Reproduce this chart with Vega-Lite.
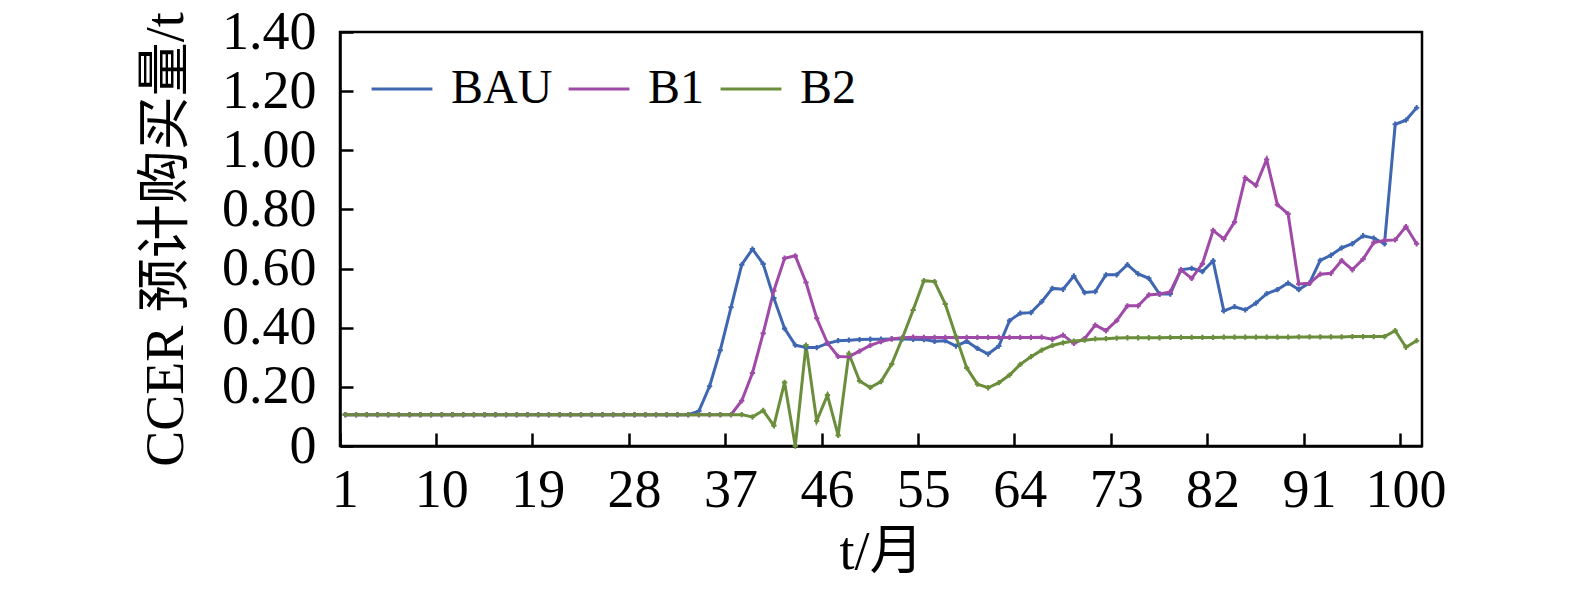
{
  "$schema": "https://vega.github.io/schema/vega-lite/v6.json",
  "width": 1082,
  "height": 414,
  "autosize": "none",
  "padding": {"left": 340, "top": 32, "right": 153, "bottom": 146},
  "background": "white",
  "config": {
    "view": {"stroke": "black", "strokeWidth": 2.5},
    "font": "Liberation Serif",
    "axis": {
      "domainColor": "black", "domainWidth": 2.5, "tickColor": "black", "tickWidth": 2.5, "tickSize": -13,
      "labelFont": "Liberation Serif", "labelFontSize": 54, "labelColor": "black",
      "titleFont": "Liberation Serif, Noto Sans CJK SC", "titleFontSize": 54, "titleFontWeight": "normal", "titleColor": "black",
      "grid": false
    }
  },
  "data": {"values": [
    {"t":1,"BAU":0.106,"B1":0.106,"B2":0.106},{"t":2,"BAU":0.106,"B1":0.106,"B2":0.106},{"t":3,"BAU":0.106,"B1":0.106,"B2":0.106},
    {"t":4,"BAU":0.106,"B1":0.106,"B2":0.106},{"t":5,"BAU":0.106,"B1":0.106,"B2":0.106},{"t":6,"BAU":0.106,"B1":0.106,"B2":0.106},
    {"t":7,"BAU":0.106,"B1":0.106,"B2":0.106},{"t":8,"BAU":0.106,"B1":0.106,"B2":0.106},{"t":9,"BAU":0.106,"B1":0.106,"B2":0.106},
    {"t":10,"BAU":0.106,"B1":0.106,"B2":0.106},{"t":11,"BAU":0.106,"B1":0.106,"B2":0.106},{"t":12,"BAU":0.106,"B1":0.106,"B2":0.106},
    {"t":13,"BAU":0.106,"B1":0.106,"B2":0.106},{"t":14,"BAU":0.106,"B1":0.106,"B2":0.106},{"t":15,"BAU":0.106,"B1":0.106,"B2":0.106},
    {"t":16,"BAU":0.106,"B1":0.106,"B2":0.106},{"t":17,"BAU":0.106,"B1":0.106,"B2":0.106},{"t":18,"BAU":0.106,"B1":0.106,"B2":0.106},
    {"t":19,"BAU":0.106,"B1":0.106,"B2":0.106},{"t":20,"BAU":0.106,"B1":0.106,"B2":0.106},{"t":21,"BAU":0.106,"B1":0.106,"B2":0.106},
    {"t":22,"BAU":0.106,"B1":0.106,"B2":0.106},{"t":23,"BAU":0.106,"B1":0.106,"B2":0.106},{"t":24,"BAU":0.106,"B1":0.106,"B2":0.106},
    {"t":25,"BAU":0.106,"B1":0.106,"B2":0.106},{"t":26,"BAU":0.106,"B1":0.106,"B2":0.106},{"t":27,"BAU":0.106,"B1":0.106,"B2":0.106},
    {"t":28,"BAU":0.106,"B1":0.106,"B2":0.106},{"t":29,"BAU":0.106,"B1":0.106,"B2":0.106},{"t":30,"BAU":0.106,"B1":0.106,"B2":0.106},
    {"t":31,"BAU":0.106,"B1":0.106,"B2":0.106},{"t":32,"BAU":0.106,"B1":0.106,"B2":0.106},{"t":33,"BAU":0.106,"B1":0.106,"B2":0.106},
    {"t":34,"BAU":0.118,"B1":0.106,"B2":0.106},{"t":35,"BAU":0.202,"B1":0.106,"B2":0.106},{"t":36,"BAU":0.324,"B1":0.106,"B2":0.106},
    {"t":37,"BAU":0.469,"B1":0.106,"B2":0.106},{"t":38,"BAU":0.613,"B1":0.153,"B2":0.106},{"t":39,"BAU":0.666,"B1":0.247,"B2":0.098},
    {"t":40,"BAU":0.616,"B1":0.381,"B2":0.12},{"t":41,"BAU":0.5,"B1":0.525,"B2":0.069},{"t":42,"BAU":0.397,"B1":0.635,"B2":0.215},
    {"t":43,"BAU":0.341,"B1":0.643,"B2":0.0},{"t":44,"BAU":0.333,"B1":0.553,"B2":0.341},{"t":45,"BAU":0.333,"B1":0.432,"B2":0.085},
    {"t":46,"BAU":0.347,"B1":0.348,"B2":0.172},{"t":47,"BAU":0.356,"B1":0.303,"B2":0.036},{"t":48,"BAU":0.358,"B1":0.302,"B2":0.313},
    {"t":49,"BAU":0.36,"B1":0.321,"B2":0.22},{"t":50,"BAU":0.361,"B1":0.34,"B2":0.198},{"t":51,"BAU":0.361,"B1":0.353,"B2":0.218},
    {"t":52,"BAU":0.362,"B1":0.362,"B2":0.277},{"t":53,"BAU":0.362,"B1":0.366,"B2":0.365},{"t":54,"BAU":0.361,"B1":0.368,"B2":0.46},
    {"t":55,"BAU":0.36,"B1":0.367,"B2":0.559},{"t":56,"BAU":0.354,"B1":0.367,"B2":0.556},{"t":57,"BAU":0.356,"B1":0.367,"B2":0.48},
    {"t":58,"BAU":0.338,"B1":0.367,"B2":0.37},{"t":59,"BAU":0.354,"B1":0.367,"B2":0.264},{"t":60,"BAU":0.33,"B1":0.367,"B2":0.209},
    {"t":61,"BAU":0.311,"B1":0.367,"B2":0.197},{"t":62,"BAU":0.338,"B1":0.367,"B2":0.214},{"t":63,"BAU":0.424,"B1":0.367,"B2":0.24},
    {"t":64,"BAU":0.449,"B1":0.367,"B2":0.276},{"t":65,"BAU":0.451,"B1":0.367,"B2":0.302},{"t":66,"BAU":0.488,"B1":0.368,"B2":0.324},
    {"t":67,"BAU":0.533,"B1":0.361,"B2":0.34},{"t":68,"BAU":0.53,"B1":0.375,"B2":0.349},{"t":69,"BAU":0.575,"B1":0.347,"B2":0.355},
    {"t":70,"BAU":0.519,"B1":0.363,"B2":0.358},{"t":71,"BAU":0.522,"B1":0.409,"B2":0.362},{"t":72,"BAU":0.579,"B1":0.39,"B2":0.363},
    {"t":73,"BAU":0.579,"B1":0.424,"B2":0.365},{"t":74,"BAU":0.613,"B1":0.474,"B2":0.366},{"t":75,"BAU":0.582,"B1":0.474,"B2":0.366},
    {"t":76,"BAU":0.567,"B1":0.511,"B2":0.366},{"t":77,"BAU":0.514,"B1":0.514,"B2":0.366},{"t":78,"BAU":0.514,"B1":0.521,"B2":0.367},
    {"t":79,"BAU":0.596,"B1":0.596,"B2":0.367},{"t":80,"BAU":0.601,"B1":0.567,"B2":0.367},{"t":81,"BAU":0.59,"B1":0.616,"B2":0.367},
    {"t":82,"BAU":0.626,"B1":0.729,"B2":0.367},{"t":83,"BAU":0.457,"B1":0.7,"B2":0.368},{"t":84,"BAU":0.471,"B1":0.757,"B2":0.368},
    {"t":85,"BAU":0.46,"B1":0.907,"B2":0.368},{"t":86,"BAU":0.483,"B1":0.881,"B2":0.368},{"t":87,"BAU":0.515,"B1":0.969,"B2":0.368},
    {"t":88,"BAU":0.529,"B1":0.816,"B2":0.368},{"t":89,"BAU":0.551,"B1":0.785,"B2":0.368},{"t":90,"BAU":0.529,"B1":0.548,"B2":0.369},
    {"t":91,"BAU":0.551,"B1":0.55,"B2":0.369},{"t":92,"BAU":0.628,"B1":0.581,"B2":0.369},{"t":93,"BAU":0.645,"B1":0.584,"B2":0.369},
    {"t":94,"BAU":0.67,"B1":0.627,"B2":0.369},{"t":95,"BAU":0.684,"B1":0.596,"B2":0.37},{"t":96,"BAU":0.711,"B1":0.632,"B2":0.37},
    {"t":97,"BAU":0.703,"B1":0.688,"B2":0.37},{"t":98,"BAU":0.684,"B1":0.695,"B2":0.37},{"t":99,"BAU":1.088,"B1":0.697,"B2":0.39},
    {"t":100,"BAU":1.102,"B1":0.742,"B2":0.334},{"t":101,"BAU":1.144,"B1":0.684,"B2":0.356}
  ]},
  "transform": [{"fold": ["BAU", "B1", "B2"], "as": ["series", "value"]}],
  "encoding": {
    "x": {
      "field": "t", "type": "ordinal",
      "scale": {"type": "band", "paddingInner": 0, "paddingOuter": 0},
      "axis": {
        "title": "t/月", "labelAngle": 0, "bandPosition": 0,
        "values": [1, 10, 19, 28, 37, 46, 55, 64, 73, 82, 91, 100],
        "labelPadding": 30, "titlePadding": 8
      }
    },
    "y": {
      "field": "value", "type": "quantitative",
      "scale": {"domain": [0, 1.4], "nice": false},
      "axis": {
        "title": "CCER 预计购买量/t",
        "values": [0, 0.2, 0.4, 0.6, 0.8, 1.0, 1.2, 1.4],
        "labelExpr": "datum.value == 0 ? '0' : format(datum.value, '.2f')",
        "labelPadding": 37, "titlePadding": 28
      }
    },
    "color": {
      "field": "series", "type": "nominal",
      "scale": {"domain": ["BAU", "B1", "B2"], "range": ["#3f66b1", "#a04aa8", "#6a8e3b"]},
      "legend": {
        "title": null, "orient": "none", "direction": "horizontal",
        "legendX": 30, "legendY": 25, "padding": 0,
        "symbolType": "stroke", "symbolSize": 3700, "symbolStrokeWidth": 3,
        "labelFont": "Liberation Serif", "labelFontSize": 48, "labelColor": "black",
        "labelOffset": 17, "columnPadding": 9
      }
    }
  },
  "layer": [
    {"mark": {"type": "line", "strokeWidth": 3}},
    {"mark": {"type": "point", "shape": "cross", "size": 28, "filled": true, "opacity": 1}}
  ]
}
